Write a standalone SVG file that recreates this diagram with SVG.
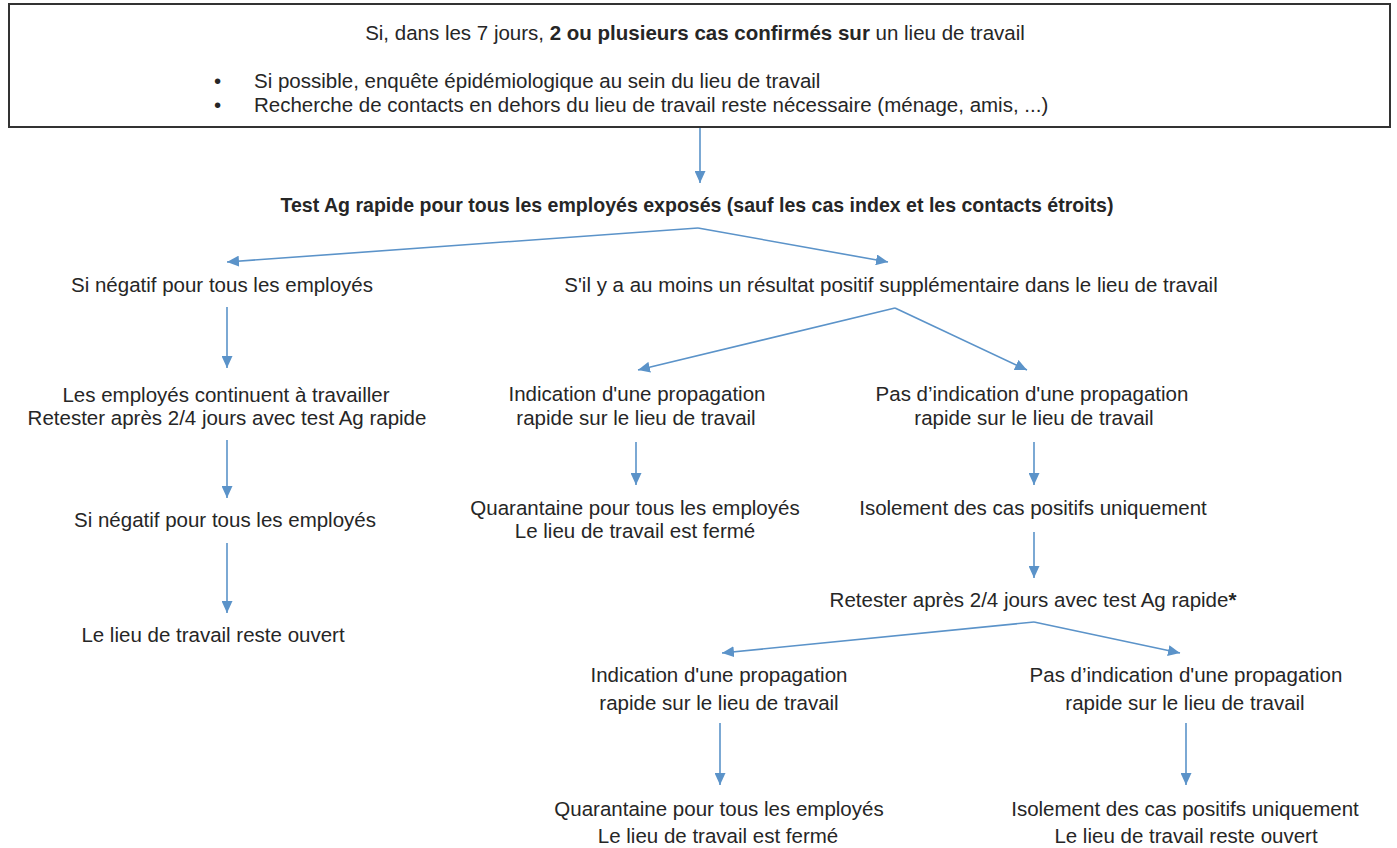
<svg xmlns="http://www.w3.org/2000/svg" width="1397" height="848" viewBox="0 0 1397 848">
<defs>
<marker id="ah" markerUnits="userSpaceOnUse" markerWidth="13" markerHeight="11" refX="12" refY="5.5" orient="auto">
<path d="M0,0 L12,5.5 L0,11 z" fill="#5B93C9"/>
</marker>
<style>
.t{font-family:"Liberation Sans",Arial,sans-serif;font-size:20.5px;fill:#262626;text-anchor:middle}
.l{text-anchor:start}
.b{font-weight:bold}
.c{fill:none;stroke:#5B93C9;stroke-width:1.6;marker-end:url(#ah)}
</style>
</defs>
<rect width="1397" height="848" fill="#fff"/>
<g id="top">
<rect x="9" y="4" width="1381" height="123" fill="#fff" stroke="#333" stroke-width="2"/>
<text class="t" x="695" y="40">Si, dans les 7 jours, <tspan class="b">2 ou plusieurs cas confirmés sur</tspan> un lieu de travail</text>
<text class="t l" x="214" y="88">•</text>
<text class="t l" x="254" y="88">Si possible, enquête épidémiologique au sein du lieu de travail</text>
<text class="t l" x="214" y="112">•</text>
<text class="t l" x="254" y="112">Recherche de contacts en dehors du lieu de travail reste nécessaire (ménage, amis, ...)</text>
</g>
<g id="test"><text class="t b" x="697" y="212" textLength="833" lengthAdjust="spacingAndGlyphs">Test Ag rapide pour tous les employés exposés (sauf les cas index et les contacts étroits)</text></g>
<g id="neg1"><text class="t" x="222" y="292">Si négatif pour tous les employés</text></g>
<g id="pos1"><text class="t" x="891" y="292">S'il y a au moins un résultat positif supplémentaire dans le lieu de travail</text></g>
<g id="cont"><text class="t" x="226" y="402">Les employés continuent à travailler</text><text class="t" x="227" y="425">Retester après 2/4 jours avec test Ag rapide</text></g>
<g id="ind1"><text class="t" x="637" y="401">Indication d'une propagation</text><text class="t" x="636" y="425">rapide sur le lieu de travail</text></g>
<g id="pas1"><text class="t" x="1032" y="401">Pas d’indication d'une propagation</text><text class="t" x="1034" y="425">rapide sur le lieu de travail</text></g>
<g id="quar1"><text class="t" x="635" y="515">Quarantaine pour tous les employés</text><text class="t" x="635" y="538">Le lieu de travail est fermé</text></g>
<g id="iso1"><text class="t" x="1033" y="515">Isolement des cas positifs uniquement</text></g>
<g id="neg2"><text class="t" x="225" y="527">Si négatif pour tous les employés</text></g>
<g id="retest2"><text class="t" x="1033" y="607">Retester après 2/4 jours avec test Ag rapide<tspan class="b">*</tspan></text></g>
<g id="open1"><text class="t" x="213" y="642">Le lieu de travail reste ouvert</text></g>
<g id="ind2"><text class="t" x="719" y="682">Indication d'une propagation</text><text class="t" x="719" y="710">rapide sur le lieu de travail</text></g>
<g id="pas2"><text class="t" x="1186" y="682">Pas d’indication d'une propagation</text><text class="t" x="1185" y="710">rapide sur le lieu de travail</text></g>
<g id="quar2"><text class="t" x="719" y="816">Quarantaine pour tous les employés</text><text class="t" x="718" y="843">Le lieu de travail est fermé</text></g>
<g id="iso2"><text class="t" x="1185" y="816">Isolement des cas positifs uniquement</text><text class="t" x="1186" y="843">Le lieu de travail reste ouvert</text></g>
<g id="connectors">
<path class="c" d="M700,128 L700,183"/>
<path class="c" d="M698,228 L227,262"/>
<path class="c" d="M698,228 L888,262"/>
<path class="c" d="M227,307 L227,368"/>
<path class="c" d="M227,440 L227,498"/>
<path class="c" d="M227,543 L227,613"/>
<path class="c" d="M895,308 L638,370"/>
<path class="c" d="M895,308 L1027,370"/>
<path class="c" d="M636,442 L636,485"/>
<path class="c" d="M1034,442 L1034,485"/>
<path class="c" d="M1034,532 L1034,578"/>
<path class="c" d="M1034,622 L722,653"/>
<path class="c" d="M1034,622 L1180,653"/>
<path class="c" d="M720,723 L720,785"/>
<path class="c" d="M1186,723 L1186,785"/>
</g>
</svg>
